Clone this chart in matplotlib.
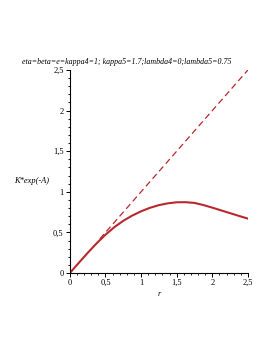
import matplotlib.pyplot as plt
from matplotlib.ticker import MultipleLocator, FuncFormatter

# K*exp(-A)
r_vals = [0, 0.125, 0.25, 0.375, 0.5, 0.625, 0.75, 0.875, 1.0, 1.125, 1.25,
          1.375, 1.5, 1.625, 1.75, 1.875, 2.0, 2.125, 2.25, 2.375, 2.5]
k_vals = [0, 0.125, 0.248, 0.365, 0.472, 0.565, 0.643, 0.707, 0.76, 0.803, 0.836,
          0.858, 0.871, 0.872, 0.863, 0.837, 0.805, 0.771, 0.737, 0.703, 0.67]
# dashed asymptote
dash_r = [0.42, 2.5]
dash_v = [0.42, 2.5]

red = '#b8282c'
serif = 'Liberation Serif'

fig = plt.figure(figsize=(2.73, 3.53), dpi=100)
ax = fig.add_axes([0.256, 0.2266, 0.652, 0.5751])

ax.plot(r_vals, k_vals, color=red, lw=1.5, solid_joinstyle='round')
ax.plot(dash_r, dash_v, color=red, lw=0.9, ls=(0, (5, 3)))

ax.set_xlim(0, 2.5)
ax.set_ylim(0, 2.5)
for s in ['top', 'right']:
    ax.spines[s].set_visible(False)
for s in ['left', 'bottom']:
    ax.spines[s].set_linewidth(0.8)

ax.xaxis.set_major_locator(MultipleLocator(0.5))
ax.yaxis.set_major_locator(MultipleLocator(0.5))
ax.xaxis.set_minor_locator(MultipleLocator(0.1))
ax.yaxis.set_minor_locator(MultipleLocator(0.1))
fmt = FuncFormatter(lambda v, p: ('%g' % v).replace('.', ','))
ax.xaxis.set_major_formatter(fmt)
ax.yaxis.set_major_formatter(fmt)
ax.tick_params(which='major', direction='out', length=3, width=0.7, labelsize=6, pad=1.5)
ax.tick_params(which='minor', direction='out', length=1.5, width=0.6)
for lbl in ax.get_xticklabels() + ax.get_yticklabels():
    lbl.set_family(serif)

ax.set_xlabel('r', family=serif, style='italic', fontsize=6, labelpad=2)
fig.text(0.114, 0.487, 'K*exp(-A)', family=serif, style='italic', fontsize=6,
         ha='center', va='center')
fig.text(0.465, 0.823, 'eta=beta=e=kappa4=1; kappa5=1.7;lambda4=0;lambda5=0.75',
         family=serif, style='italic', fontsize=5.7, ha='center', va='center')

fig.savefig('out.png', dpi=100)
